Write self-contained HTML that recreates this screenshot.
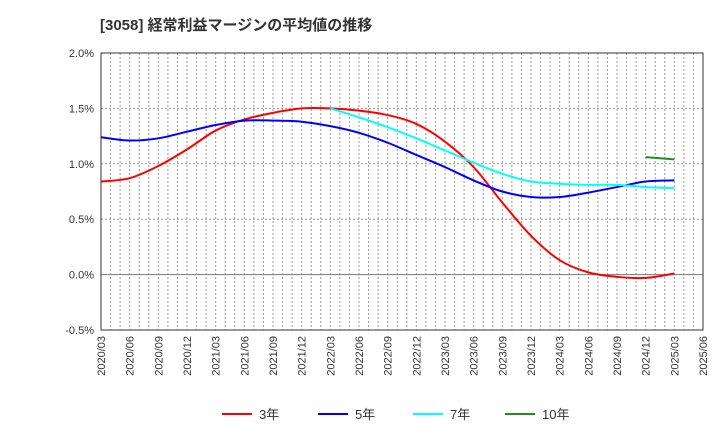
<!DOCTYPE html>
<html><head><meta charset="utf-8"><style>
body{margin:0;background:#fff;font-family:"Liberation Sans","Noto Sans CJK JP",sans-serif;}
</style></head><body>
<svg id="c" width="720" height="440" xmlns="http://www.w3.org/2000/svg">
<text x="100" y="30" font-size="15" font-weight="bold" fill="#333" font-family="Liberation Sans, Noto Sans CJK JP, sans-serif">[3058]  経常利益マージンの平均値の推移</text>
<g id="grid"></g><g id="axes"></g><g id="series"></g><g id="legend"></g>
</svg>
<script>
const xLabels=["2020/03","2020/06","2020/09","2020/12","2021/03","2021/06","2021/09","2021/12","2022/03","2022/06","2022/09","2022/12","2023/03","2023/06","2023/09","2023/12","2024/03","2024/06","2024/09","2024/12","2025/03","2025/06"];
const yTicks=[-0.5,0,0.5,1.0,1.5,2.0];
const s3=[0.84,0.87,0.98,1.13,1.30,1.40,1.46,1.50,1.50,1.48,1.44,1.36,1.20,0.97,0.65,0.35,0.13,0.02,-0.02,-0.03,0.01];
const s5=[1.24,1.21,1.23,1.29,1.35,1.39,1.39,1.38,1.34,1.28,1.19,1.08,0.97,0.85,0.75,0.70,0.70,0.74,0.79,0.84,0.85];
const s7=[null,null,null,null,null,null,null,null,1.50,1.42,1.33,1.23,1.12,1.01,0.91,0.84,0.82,0.81,0.81,0.79,0.78];
const s10=[null,null,null,null,null,null,null,null,null,null,null,null,null,null,null,null,null,null,null,1.06,1.04];
const L=101,R=703,T=53,B=330;
const xs=i=>L+(R-L)*i/21;
const ys=v=>B-(v+0.5)/2.5*(B-T);
const NS="http://www.w3.org/2000/svg";
function mk(p,t,a){const e=document.createElementNS(NS,t);for(const k in a)e.setAttribute(k,a[k]);p.appendChild(e);return e;}
const g=document.getElementById('grid'),ax=document.getElementById('axes'),se=document.getElementById('series'),lg=document.getElementById('legend');
for(let m=1;m<63;m++){const x=L+(R-L)*m/63;
const l=mk(g,'line',{x1:x,x2:x,y1:T,y2:B,stroke:'#999','stroke-dasharray':'2,2','stroke-width':1});

}
yTicks.forEach(v=>{const y=ys(v);
const l=mk(g,'line',{x1:L,x2:R,y1:y,y2:y,stroke:v===0?'#777':'#999','stroke-dasharray':v===0?'none':'2,2','stroke-width':1});


const t=mk(ax,'text',{x:L-7,y:y+4,'text-anchor':'end','font-size':11,fill:'#333'});t.textContent=v.toFixed(1)+'%';

});
const fr=mk(ax,'rect',{x:L,y:T,width:R-L,height:B-T,fill:'none',stroke:'#333','stroke-width':1});


xLabels.forEach((s,i)=>{const x=xs(i)+4,y=B+6;
const t=mk(ax,'text',{x:x,y:y,'text-anchor':'end','font-size':11,fill:'#333',transform:`rotate(-90 ${x} ${y})`});t.textContent=s;

});
function path(arr){const p=[];arr.forEach((v,i)=>{if(v!==null)p.push([xs(i),ys(v)]);});
if(p.length<2)return '';let d=`M${p[0][0]},${p[0][1]}`;
for(let i=0;i<p.length-1;i++){const p0=p[i-1]||p[i],p1=p[i],p2=p[i+1],p3=p[i+2]||p2;
d+=` C${p1[0]+(p2[0]-p0[0])/6},${p1[1]+(p2[1]-p0[1])/6} ${p2[0]-(p3[0]-p1[0])/6},${p2[1]-(p3[1]-p1[1])/6} ${p2[0]},${p2[1]}`;}return d;}
const series=[[s3,'#ff0000','3年','line-3yr'],[s5,'#0000ff','5年','line-5yr'],[s7,'#00ffff','7年','line-7yr'],[s10,'#228b22','10年','line-10yr']];
series.forEach(([a,c,n,id])=>{const e=mk(se,'path',{d:path(a),fill:'none',stroke:c,'stroke-width':2});

});
const lx=[222,318,413,505];
series.forEach(([a,c,n,id],i)=>{const x=lx[i];
const l=mk(lg,'line',{x1:x,x2:x+30,y1:414,y2:414,stroke:c,'stroke-width':2});


const t=mk(lg,'text',{x:x+37,y:419,'font-size':13,fill:'#333'});t.textContent=n;

});
</script>
</body></html>
